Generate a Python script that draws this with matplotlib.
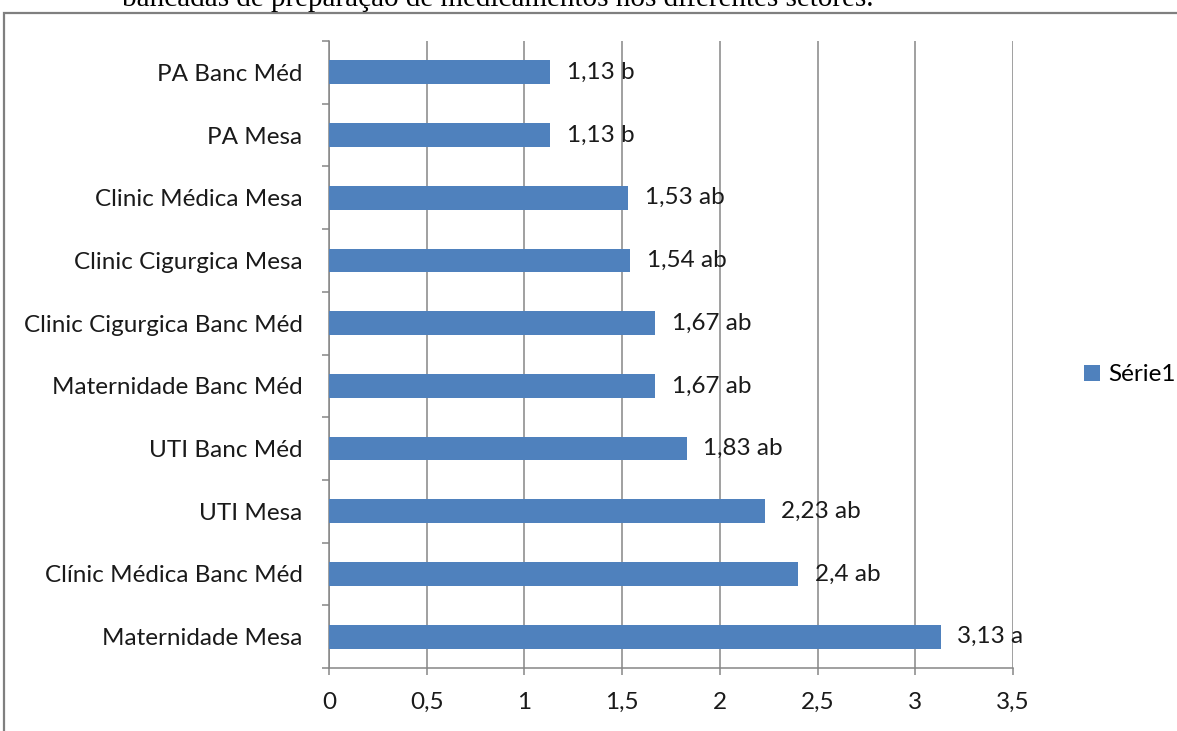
import matplotlib.pyplot as plt
import numpy as np
from matplotlib.patches import Rectangle
from matplotlib.ticker import FixedLocator

setores = ['Maternidade Mesa', 'Clínic Médica Banc Méd', 'UTI Mesa', 'UTI Banc Méd',
           'Maternidade Banc Méd', 'Clinic Cigurgica Banc Méd', 'Clinic Cigurgica Mesa',
           'Clinic Médica Mesa', 'PA Mesa', 'PA Banc Méd']
medias = [3.13, 2.4, 2.23, 1.83, 1.67, 1.67, 1.54, 1.53, 1.13, 1.13]
letras = ['a', 'ab', 'ab', 'ab', 'ab', 'ab', 'ab', 'ab', 'b', 'b']
xticks = [0, 0.5, 1, 1.5, 2, 2.5, 3, 3.5]

plt.rcParams['font.family'] = ['Lato', 'DejaVu Sans']
cor = '#4F81BD'
cinza = '#868686'
fs = 17.5

fig = plt.figure(figsize=(11.77, 7.31), dpi=100)
fig.patches.append(Rectangle((4 / 1177, -0.1), 1.2, 1 - 13 / 731 + 0.1, transform=fig.transFigure,
                             fill=False, edgecolor='#7f7f7f', lw=1.6))
fig.text(122 / 1177, 1 - 6 / 731, 'bancadas de preparação de medicamentos nos diferentes setores.',
         family='Liberation Serif', fontsize=21, va='baseline', ha='left')

ax = fig.add_axes([329 / 1177, 1 - 668 / 731, (1013 - 329) / 1177, (668 - 41) / 731])
y = np.arange(len(setores))
ax.barh(y, medias, height=0.38, color=cor, zorder=3, label='Série1')
for yi, v, l in zip(y, medias, letras):
    txt = ('%g' % v).replace('.', ',') + ' ' + l
    ax.annotate(txt, (v, yi), xytext=(12, 0), textcoords='offset points',
                va='center', ha='left', fontsize=fs, color='#1a1a1a', zorder=4)

ax.set_xlim(0, 3.5)
ax.set_ylim(-0.5, len(setores) - 0.5)
ax.set_xticks(xticks)
ax.set_xticklabels([('%g' % t).replace('.', ',') for t in xticks])
ax.set_yticks(y)
ax.set_yticklabels(setores)
ax.yaxis.set_minor_locator(FixedLocator(np.arange(-0.5, len(setores), 1)))
ax.tick_params(axis='y', which='major', length=0, pad=19, labelsize=fs, labelcolor='#1a1a1a')
ax.tick_params(axis='y', which='minor', length=5, width=1.1, color=cinza)
ax.tick_params(axis='x', which='major', length=5, width=1.1, color=cinza, pad=12,
               labelsize=fs, labelcolor='#1a1a1a')
ax.grid(axis='x', color=cinza, lw=1.1, zorder=0)
for s in ['top', 'right']:
    ax.spines[s].set_visible(False)
for s in ['left', 'bottom']:
    ax.spines[s].set_color(cinza)
    ax.spines[s].set_linewidth(1.1)

fig.legend(loc='center left', bbox_to_anchor=(1062 / 1177, 1 - 375 / 731), frameon=False,
           fontsize=fs, handlelength=0.65, handleheight=0.65, handletextpad=0.35)

plt.savefig('out.png', dpi=100)
